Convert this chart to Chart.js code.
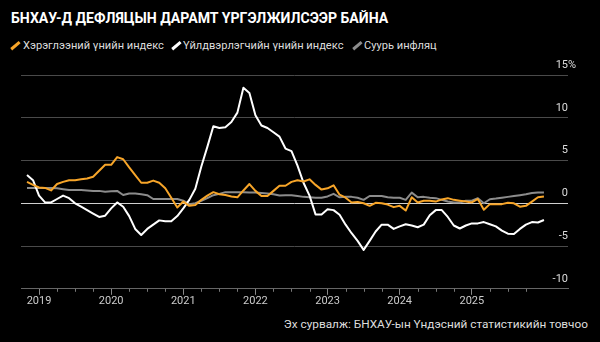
<!DOCTYPE html>
<html>
<head>
<meta charset="utf-8">
<script src="https://cdn.jsdelivr.net/npm/chart.js@4.4.1/dist/chart.umd.min.js"></script>
<style>
  html, body { margin: 0; padding: 0; background: #000; }
  body { width: 600px; height: 342px; position: relative; overflow: hidden; font-family: Roboto, "Liberation Sans", sans-serif; color: #fff; }
  .title { position: absolute; left: 11px; top: 10px; font-size: 14.1px; font-weight: 700; }
  .item { position: absolute; top: 38px; font-size: 11.1px; line-height: 15px; color: #ddd; white-space: nowrap; }
  .mark { position: absolute; top: 40px; width: 2.5px; height: 11px; transform: rotate(50deg); }
  .source { position: absolute; right: 12px; top: 317px; font-size: 11.8px; color: #ddd; }
  #chart { position: absolute; left: 0; top: 0; }
</style>
</head>
<body>
<div class="title">БНХАУ-Д ДЕФЛЯЦЫН ДАРАМТ ҮРГЭЛЖИЛСЭЭР БАЙНА</div>
<span class="mark" style="left:14px; background:#f7a529"></span>
<div class="item" style="left:23px">Хэрэглээний үнийн индекс</div>
<span class="mark" style="left:175px; background:#ffffff"></span>
<div class="item" style="left:183px">Үйлдвэрлэгчийн үнийн индекс</div>
<span class="mark" style="left:356px; background:#8c8c8c"></span>
<div class="item" style="left:364px">Суурь инфляц</div>
<div class="source">Эх сурвалж: БНХАУ-ын Үндэсний статистикийн товчоо</div>
<canvas id="chart" width="600" height="342"></canvas>
<script>
// monthly data, Oct 2018 .. Dec 2025 (plotted at month end)
const firstMonth = '2018-10';
const lastMonth = '2025-12';

const cpi = [
  2.5, 2.15, 1.85,
  1.8, 1.5, 2.25, 2.5, 2.7, 2.7, 2.8, 2.9, 3.1, 3.8, 4.5, 4.5,
  5.4, 5.15, 4.2, 3.3, 2.4, 2.4, 2.65, 2.4, 1.75, 0.65, -0.5, 0.2,
  -0.3, -0.2, 0.4, 0.9, 1.3, 1.05, 0.97, 0.8, 0.7, 1.5, 2.25, 1.45,
  0.85, 0.85, 1.45, 2.05, 2.05, 2.5, 2.7, 2.55, 2.8, 2.15, 1.6, 1.75,
  2.1, 1.0, 0.65, 0.1, 0.15, 0.0, -0.3, 0.05, 0.0, -0.15, -0.45, -0.3,
  -0.85, 0.7, 0.1, 0.3, 0.3, 0.2, 0.45, 0.6, 0.4, 0.3, 0.2, 0.1,
  0.5, -0.75, -0.1, -0.1, -0.1, 0.05, 0.0, -0.4, -0.3, 0.2, 0.7, 0.8
];

const ppi = [
  3.3, 2.7, 0.9,
  0.1, 0.1, 0.5, 0.9, 0.6, 0.0, -0.4, -0.8, -1.2, -1.6, -1.45, -0.6,
  0.1, -0.4, -1.5, -3.0, -3.7, -3.0, -2.5, -2.0, -2.1, -2.1, -1.5, -0.6,
  0.4, 1.7, 4.3, 6.6, 9.0, 8.8, 8.9, 9.5, 10.6, 13.5, 12.9, 10.3,
  9.1, 8.8, 8.3, 7.8, 6.4, 6.1, 4.4, 2.4, 0.9, -1.3, -1.3, -0.7,
  -0.8, -1.35, -2.5, -3.5, -4.4, -5.45, -4.4, -3.3, -2.5, -2.5, -3.0, -2.7,
  -2.45, -2.6, -2.8, -2.5, -1.4, -0.8, -0.8, -1.6, -2.6, -2.95, -2.6, -2.35,
  -2.35, -2.2, -2.45, -2.7, -3.2, -3.55, -3.6, -3.0, -2.5, -2.2, -2.25, -1.95
];

const core = [
  1.8, 1.8, 1.8,
  1.8, 1.8, 1.75, 1.65, 1.55, 1.55, 1.55, 1.5, 1.45, 1.45, 1.35, 1.4,
  1.45, 0.97, 1.15, 1.15, 1.05, 0.95, 0.5, 0.5, 0.5, 0.5, 0.5, 0.3,
  -0.1, 0.0, 0.3, 0.6, 0.95, 1.1, 1.3, 1.3, 1.3, 1.3, 1.25, 1.25,
  1.2, 1.15, 1.05, 0.9, 0.95, 0.95, 0.85, 0.75, 0.7, 0.65, 0.65, 0.8,
  1.1, 0.7, 0.75, 0.75, 0.65, 0.4, 0.85, 0.85, 0.85, 0.7, 0.65, 0.65,
  0.4, 1.25, 0.7, 0.75, 0.65, 0.6, 0.4, 0.2, 0.1, 0.1, 0.3, 0.3,
  0.6, 0.0, 0.47, 0.55, 0.65, 0.75, 0.85, 0.95, 1.05, 1.2, 1.25, 1.25
];

const yearLabels = ['2019', '2020', '2021', '2022', '2023', '2024', '2025'];
const yTicks = [-10, -5, 0, 5, 10, 15];

// month labels from firstMonth to lastMonth
const months = [];
{
  let [y, m] = firstMonth.split('-').map(Number);
  const [ly, lm] = lastMonth.split('-').map(Number);
  while (y < ly || (y === ly && m <= lm)) {
    months.push(`${y}-${String(m).padStart(2, '0')}`);
    m++;
    if (m > 12) { m = 1; y++; }
  }
}

// x position in months after Jan 2019, at month end
const toX = (label) => {
  const [y, m] = label.split('-').map(Number);
  return (y - 2019) * 12 + m;
};
const points = (arr) => months.map((mo, i) => ({ x: toX(mo), y: arr[i] }));

const yearTicks = yearLabels.map((_, i) => i * 12);

const quarterTicks = {
  id: 'quarterTicks',
  afterDraw(chart) {
    const { ctx, scales: { x } } = chart;
    ctx.save();
    ctx.strokeStyle = '#777';
    ctx.lineWidth = 1;
    for (let v = 3; v < 84; v += 3) {
      if (v % 12 === 0) continue;
      const px = Math.round(x.getPixelForValue(v)) + 0.5;
      ctx.beginPath();
      ctx.moveTo(px, x.top);
      ctx.lineTo(px, x.top + 3);
      ctx.stroke();
    }
    // percent sign after top label
    const y = chart.scales.y;
    ctx.fillStyle = '#ddd';
    ctx.font = '11px Roboto, "Liberation Sans", sans-serif';
    ctx.textAlign = 'left';
    ctx.textBaseline = 'middle';
    ctx.fillText('%', y.left, y.getPixelForValue(yTicks[yTicks.length - 1]) - 10);
    ctx.restore();
  }
};

new Chart(document.getElementById('chart'), {
  type: 'line',
  data: {
    datasets: [
      { label: 'Хэрэглээний үнийн индекс', data: points(cpi), borderColor: '#f7a529', borderWidth: 2 },
      { label: 'Үйлдвэрлэгчийн үнийн индекс', data: points(ppi), borderColor: '#ffffff', borderWidth: 2 },
      { label: 'Суурь инфляц', data: points(core), borderColor: '#8c8c8c', borderWidth: 2 },
    ],
  },
  options: {
    responsive: false,
    animation: false,
    layout: { padding: { left: 21, right: 32, top: 75, bottom: 34 } },
    elements: { point: { radius: 0 }, line: { tension: 0, borderJoinStyle: 'round' } },
    plugins: { legend: { display: false }, tooltip: { enabled: false } },
    scales: {
      x: {
        type: 'linear',
        min: -3,
        max: 88,
        afterBuildTicks: (scale) => { scale.ticks = yearTicks.map((v) => ({ value: v })); },
        grid: { drawOnChartArea: false, tickLength: 6, tickColor: '#888' },
        border: { color: '#666' },
        ticks: {
          padding: 0,
          color: '#ccc',
          font: { family: 'Roboto', size: 11 },
          maxRotation: 0,
          autoSkip: false,
          callback: (value, index) => yearLabels[index],
        },
      },
      y: {
        position: 'right',
        min: -10,
        max: 15,
        afterBuildTicks: (scale) => { scale.ticks = yTicks.map((v) => ({ value: v })); },
        grid: {
          drawTicks: false,
          color: (c) => (c.tick && c.tick.value === 0 ? '#d0d0d0' : '#4a4a4a'),
        },
        border: { display: false },
        ticks: {
          mirror: true,
          padding: 0,
          labelOffset: -10,
          color: '#ddd',
          font: { family: 'Roboto', size: 11 },
        },
      },
    },
  },
  plugins: [quarterTicks],
});
</script>
</body>
</html>
